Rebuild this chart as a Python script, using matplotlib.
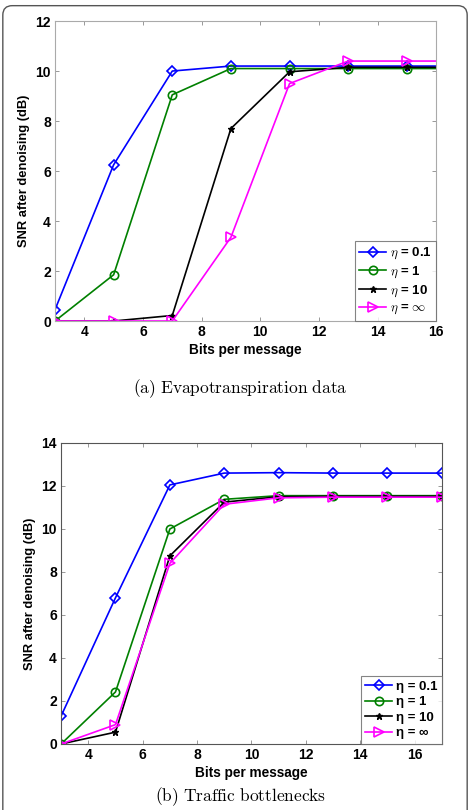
import matplotlib
matplotlib.use("Agg")
import matplotlib.pyplot as plt
from matplotlib.patches import FancyBboxPatch

plt.rcParams['font.family'] = ['Liberation Sans', 'DejaVu Sans']
plt.rcParams['mathtext.fontset'] = 'cm'

bits = [3, 5, 7, 9, 11, 13, 15, 17]

# (a) Evapotranspiration data
a_eta01 = [0.45, 6.25, 10.0, 10.2, 10.2, 10.2, 10.2, 10.2]
a_eta1 = [0.0, 1.85, 9.05, 10.1, 10.1, 10.1, 10.1, 10.1]
a_eta10 = [0.0, 0.0, 0.22, 7.7, 9.97, 10.15, 10.15, 10.15]
a_etainf = [0.0, 0.0, 0.0, 3.35, 9.5, 10.4, 10.4, 10.4]

# (b) Traffic bottlenecks
b_eta01 = [1.3, 6.8, 12.05, 12.6, 12.62, 12.6, 12.6, 12.6]
b_eta1 = [0.0, 2.42, 10.0, 11.38, 11.55, 11.55, 11.55, 11.55]
b_eta10 = [0.0, 0.55, 8.75, 11.25, 11.5, 11.52, 11.52, 11.52]
b_etainf = [0.0, 0.9, 8.4, 11.15, 11.45, 11.48, 11.48, 11.48]

labels_a = [r'$\eta$ = 0.1', r'$\eta$ = 1', r'$\eta$ = 10', r'$\eta$ = $\infty$']
labels_b = ['η = 0.1', 'η = 1', 'η = 10', 'η = ∞']

styles = [
    dict(color='#0000ff', marker='D', markersize=5.5, markerfacecolor='none', markeredgewidth=1.2),
    dict(color='#008000', marker='o', markersize=6, markerfacecolor='none', markeredgewidth=1.2),
    dict(color='#000000', marker='*', markersize=5, markerfacecolor='#000000'),
    dict(color='#ff00ff', marker='>', markersize=6.5, markerfacecolor='none', markeredgewidth=1.2),
]

fig = plt.figure(figsize=(4.7, 8.1), dpi=100)

border = FancyBboxPatch((0.006, -0.05), 0.988, 1.043, boxstyle="round,pad=0,rounding_size=0.02",
                        transform=fig.transFigure, facecolor='none', edgecolor='#555555',
                        linewidth=1.0, mutation_aspect=470/810, zorder=-1)
fig.patches.append(border)

def make(ax, series, labels, xlim, ylim, yticks, xticks, spine_color):
    for ys, lab, st in zip(series, labels, styles):
        ax.plot(bits, ys, linewidth=1.2, label=lab, clip_on=True, **st)
    ax.set_xlim(*xlim)
    ax.set_ylim(*ylim)
    ax.set_xticks(xticks)
    ax.set_yticks(yticks)
    ax.tick_params(direction='in', top=True, right=True, length=3, width=0.6,
                   color='#888888', labelsize=10, pad=3)
    for lab in ax.get_xticklabels() + ax.get_yticklabels():
        lab.set_fontweight('bold')
    for s in ax.spines.values():
        s.set_color(spine_color)
        s.set_linewidth(0.8)
    ax.set_xlabel('Bits per message', fontsize=9.8, fontweight='bold', labelpad=2.5)
    ax.set_ylabel('SNR after denoising (dB)', fontsize=9.3, fontweight='bold', labelpad=4)
    leg = ax.legend(loc='lower right', frameon=True, fancybox=False,
                    borderaxespad=0, handlelength=2.0, handletextpad=0.3,
                    labelspacing=0.25, borderpad=0.35, prop={'weight': 'bold', 'size': 9.5})
    leg.get_frame().set_edgecolor('#666666')
    leg.get_frame().set_linewidth(0.8)

ax1 = fig.add_axes([0.117, 0.6037, 0.811, 0.3703])
make(ax1, [a_eta01, a_eta1, a_eta10, a_etainf], labels_a, (3, 16), (0, 12),
     [0, 2, 4, 6, 8, 10, 12], [4, 6, 8, 10, 12, 14, 16], '#aaaaaa')

ax2 = fig.add_axes([0.130, 0.0815, 0.810, 0.3716])
make(ax2, [b_eta01, b_eta1, b_eta10, b_etainf], labels_b, (3, 17), (0, 14),
     [0, 2, 4, 6, 8, 10, 12, 14], [4, 6, 8, 10, 12, 14, 16], '#555555')

fig.text(0.511, 1 - 389/810, r'$\mathrm{(a)\ Evapotranspiration\ data}$', ha='center', va='center', fontsize=12.5)
fig.text(0.511, 1 - 797/810, r'$\mathrm{(b)\ Traffic\ bottlenecks}$', ha='center', va='center', fontsize=12.5)

fig.savefig('out.png', dpi=100)
